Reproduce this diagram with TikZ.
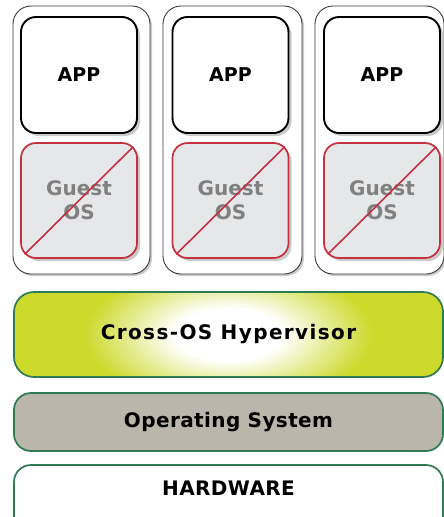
\documentclass[tikz,border=0pt]{standalone}
\usepackage{fontspec}
\newfontfamily\diagfont{DejaVu Sans}
\newfontfamily\hyperfont{DejaVu Sans}[LetterSpace=7]
\newfontfamily\layerfont{DejaVu Sans}[LetterSpace=2]
\usetikzlibrary{shadows}

\definecolor{hypergreen}{HTML}{CCDA2C}
\definecolor{layerline}{HTML}{2F7A52}
\definecolor{osgray}{HTML}{BAB6AB}
\definecolor{guestfill}{HTML}{E6E7E9}
\definecolor{guestred}{HTML}{C4323F}
\definecolor{guesttext}{HTML}{808080}
\definecolor{shadowgray}{HTML}{CACACA}
\definecolor{vmline}{HTML}{3A3A3A}
\pgfdeclareradialshading{glow}{\pgfpoint{0bp}{0bp}}{color(0bp)=(white); color(4.5bp)=(white); color(12bp)=(hypergreen); color(50bp)=(hypergreen)}

\begin{document}
\begin{tikzpicture}[x=1pt,y=-1pt]

\tikzset{vm/.style = {draw=vmline, line width=0.9pt, rounded corners=18pt, fill=white, inner sep=0pt, minimum height=268pt, general shadow={fill=shadowgray, shadow xshift=2pt, shadow yshift=-2pt}}}
\tikzset{app/.style = {draw=black, line width=1.9pt, rounded corners=15pt, fill=white, minimum width=116pt, minimum height=116pt, font=\diagfont\bfseries\fontsize{19}{21}\selectfont, general shadow={fill=shadowgray, shadow xshift=3pt, shadow yshift=-3pt}}}
\tikzset{guest/.style = {draw=guestred, line width=1.7pt, rounded corners=15pt, fill=guestfill, minimum width=116pt, minimum height=115pt, align=center, text=guesttext, font=\diagfont\bfseries\fontsize{20}{24}\selectfont, general shadow={fill=shadowgray, shadow xshift=3pt, shadow yshift=-3pt}}}
\tikzset{cross/.style = {draw=guestred, line width=1.6pt}}
\tikzset{layer/.style = {draw=layerline, line width=1.7pt, rounded corners=17pt, minimum width=429pt, font=\layerfont\bfseries\fontsize{20}{22}\selectfont}}

\useasboundingbox (0,0) rectangle (444,517);
\clip (0,0) rectangle (444,517);

%virtual machines
\node[vm, minimum width=137pt] (vm1) at (81.5,140) {};
\node[vm, minimum width=139pt] (vm2) at (232.5,140) {};
\node[vm, minimum width=129pt] (vm3) at (379.5,140) {};

%applications
\node[app] (app1) at (79,75) {APP};
\node[app] (app2) at (230.5,75) {APP};
\node[app] (app3) at (382,75) {APP};

%guest systems
\node[guest] (guest1) at (79,200.5) {Guest\\OS};
\node[guest] (guest2) at (230.5,200.5) {Guest\\OS};
\node[guest] (guest3) at (382,200.5) {Guest\\OS};
\draw[cross] ([xshift=4.5pt,yshift=4.5pt]guest1.south west) -- ([xshift=-4.5pt,yshift=-4.5pt]guest1.north east);
\draw[cross] ([xshift=4.5pt,yshift=4.5pt]guest2.south west) -- ([xshift=-4.5pt,yshift=-4.5pt]guest2.north east);
\draw[cross] ([xshift=4.5pt,yshift=4.5pt]guest3.south west) -- ([xshift=-4.5pt,yshift=-4.5pt]guest3.north east);

%layers
\node[layer, minimum height=85pt, rounded corners=20pt, fill=hypergreen, font=\hyperfont\bfseries\fontsize{20}{22}\selectfont,
  path picture={\shade[shading=glow] (path picture bounding box.center) ellipse (300 and 145);}]
  (hyper) at (228.5,334.5) {Cross-OS Hypervisor};
\node[layer, minimum height=58pt, fill=osgray] (os) at (228.5,422) {Operating System};
\node[layer, minimum height=70pt, fill=white] (hw) at (228.5,500) {};
\node[font=\layerfont\bfseries\fontsize{20}{22}\selectfont] (hwlabel) at ([yshift=-24pt]hw.north) {HARDWARE};

\end{tikzpicture}
\end{document}
